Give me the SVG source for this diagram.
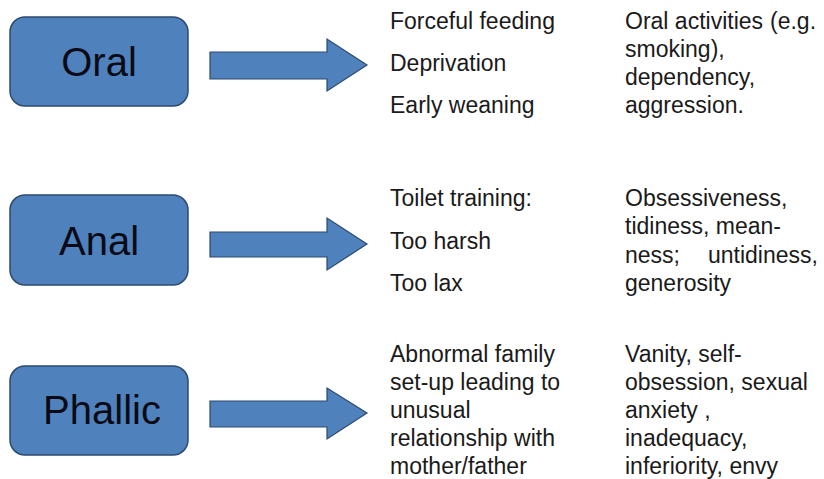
<svg xmlns="http://www.w3.org/2000/svg" width="824" height="479" viewBox="0 0 824 479">
<style>
.box{fill:#4f81bd;stroke:#2c4a6e;stroke-width:1.5}
.arr{fill:#4f81bd;stroke:#2c4a6e;stroke-width:1.2}
.lbl{font-family:"Liberation Sans",Arial,sans-serif;font-size:40px;fill:#0a0a14;text-anchor:middle}
.t{font-family:"Liberation Sans",Arial,sans-serif;font-size:23px;fill:#1a1a1a}
</style>
<rect width="824" height="479" fill="#ffffff"/>
<g id="oral">
<rect class="box" x="10" y="17" width="178" height="89" rx="15"/>
<text class="lbl" x="99" y="76">Oral</text>
</g>
<g id="anal">
<rect class="box" x="10" y="195" width="178" height="90" rx="15"/>
<text class="lbl" x="99" y="255">Anal</text>
</g>
<g id="phallic">
<rect class="box" x="10" y="366" width="178" height="89" rx="15"/>
<text class="lbl" x="102" y="424">Phallic</text>
</g>
<g id="connectors">
<path class="arr" d="M210,52 H327 V39 L367,65 L327,91 V79 H210 Z"/>
<path class="arr" d="M210,232 H327 V218 L367,244 L327,270 V257 H210 Z"/>
<path class="arr" d="M210,401 H327 V388 L367,413 L327,439 V427 H210 Z"/>
</g>
<g id="oral-causes">
<text class="t" x="390" y="29">Forceful feeding</text>
<text class="t" x="390" y="71">Deprivation</text>
<text class="t" x="390" y="113">Early weaning</text>
</g>
<g id="oral-traits">
<text class="t" x="625" y="29">Oral activities <tspan x="770">(e.g.</tspan></text>
<text class="t" x="625" y="57">smoking),</text>
<text class="t" x="625" y="85">dependency,</text>
<text class="t" x="625" y="113">aggression.</text>
</g>
<g id="anal-causes">
<text class="t" x="390" y="206">Toilet training:</text>
<text class="t" x="390" y="249">Too harsh</text>
<text class="t" x="390" y="291">Too lax</text>
</g>
<g id="anal-traits">
<text class="t" x="625" y="206">Obsessiveness,</text>
<text class="t" x="625" y="234">tidiness, mean-</text>
<text class="t" x="625" y="263">ness; <tspan x="708">untidiness,</tspan></text>
<text class="t" x="625" y="291">generosity</text>
</g>
<g id="phallic-causes">
<text class="t" x="390" y="362">Abnormal family</text>
<text class="t" x="390" y="390">set-up leading to</text>
<text class="t" x="390" y="418">unusual</text>
<text class="t" x="390" y="446">relationship with</text>
<text class="t" x="390" y="474">mother/father</text>
</g>
<g id="phallic-traits">
<text class="t" x="625" y="362">Vanity, self-</text>
<text class="t" x="625" y="390">obsession, sexual</text>
<text class="t" x="625" y="418">anxiety ,</text>
<text class="t" x="625" y="446">inadequacy,</text>
<text class="t" x="625" y="474">inferiority, envy</text>
</g>
</svg>
